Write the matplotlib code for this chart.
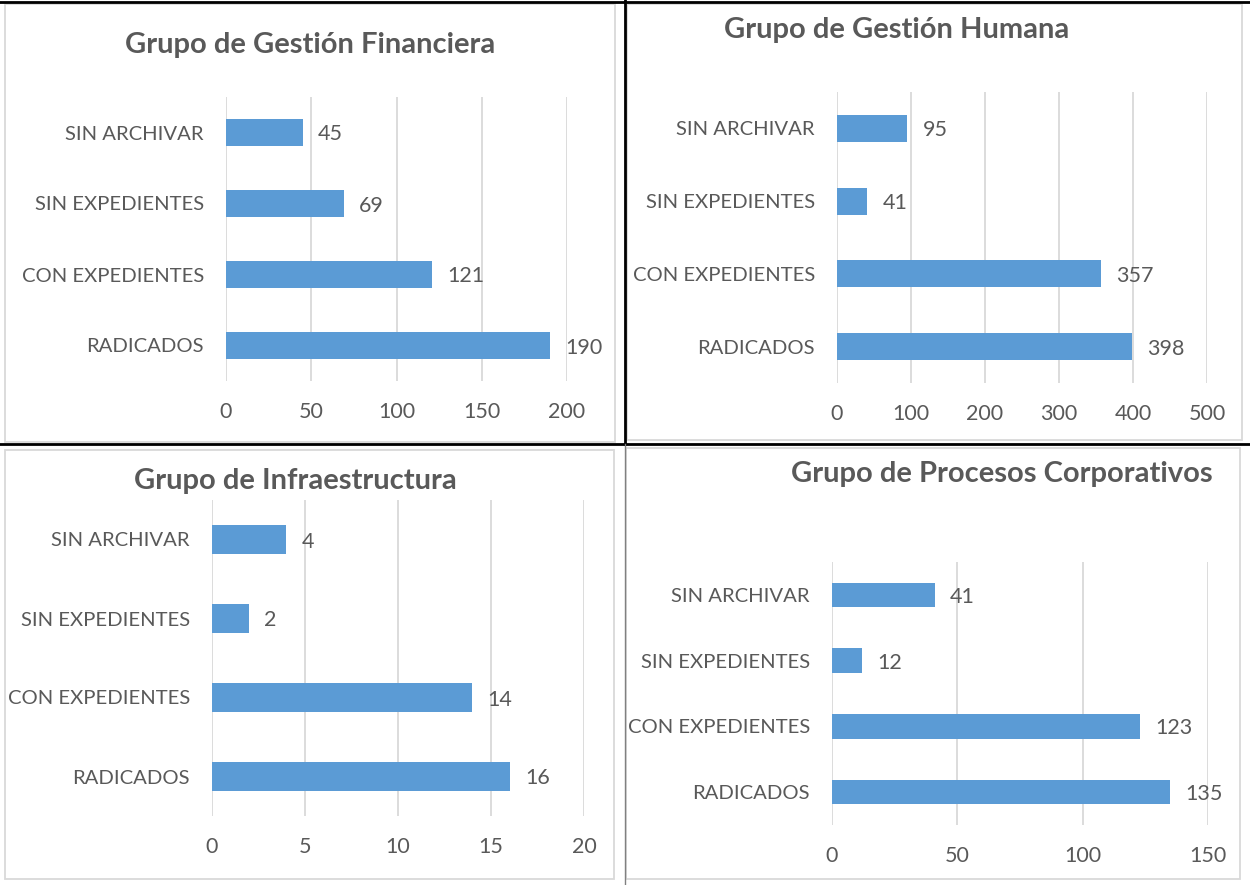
import matplotlib
matplotlib.use("Agg")
import matplotlib.pyplot as plt
from matplotlib.patches import Rectangle
from matplotlib.lines import Line2D

plt.rcParams['font.family'] = ['Lato', 'DejaVu Sans']

categorias = ['RADICADOS', 'CON EXPEDIENTES', 'SIN EXPEDIENTES', 'SIN ARCHIVAR']

titulos = ['Grupo de Gestión Financiera', 'Grupo de Gestión Humana',
           'Grupo de Infraestructura', 'Grupo de Procesos Corporativos']
financiera = [190, 121, 69, 45]
humana = [398, 357, 41, 95]
infraestructura = [16, 14, 2, 4]
corporativos = [135, 123, 12, 41]
series = [financiera, humana, infraestructura, corporativos]

limites = [200, 500, 20, 150]
pasos = [50, 100, 5, 50]

W, H = 1250, 885
AZUL = '#5B9BD5'
TEXTO = '#595959'
GRIS = '#D9D9D9'

# pixel boxes (left, top, right, bottom) for plot areas
areas = [(226, 97, 567, 381), (837, 92, 1207, 383),
         (212, 500, 584, 816), (832, 562, 1208, 825)]
marcos = [(5, 4, 615, 442), (627, 4, 1242, 440),
          (5, 450, 614, 879), (626, 448, 1240, 879)]
pos_titulo = [(310, 45), (897, 30), (295, 481), (1002, 474)]

fig = plt.figure(figsize=(W / 100, H / 100), dpi=100)

for (x0, y0, x1, y1) in marcos:
    fig.patches.append(Rectangle((x0 / W, 1 - y1 / H), (x1 - x0) / W, (y1 - y0) / H,
                                 transform=fig.transFigure, fill=False,
                                 edgecolor=GRIS, linewidth=1.3))

fig.lines.append(Line2D([0, 1], [1 - 2 / H, 1 - 2 / H], transform=fig.transFigure,
                        color='black', linewidth=2))
fig.lines.append(Line2D([0, 1], [1 - 444 / H, 1 - 444 / H], transform=fig.transFigure,
                        color='black', linewidth=2))
fig.lines.append(Line2D([625 / W, 625 / W], [1 - 444 / H, 1], transform=fig.transFigure,
                        color='black', linewidth=2))
fig.lines.append(Line2D([625 / W, 625 / W], [0, 1 - 444 / H], transform=fig.transFigure,
                        color='#808080', linewidth=1))

for i in range(4):
    x0, y0, x1, y1 = areas[i]
    ax = fig.add_axes([x0 / W, 1 - y1 / H, (x1 - x0) / W, (y1 - y0) / H])
    vals = series[i]
    ypos = list(range(len(categorias)))
    ax.barh(ypos, vals, height=0.37, color=AZUL, zorder=3)
    for y, v in zip(ypos, vals):
        ax.annotate(str(v), (v, y), xytext=(11, 0), textcoords='offset points',
                    va='center_baseline', ha='left', fontsize=15.5, color=TEXTO)
    ax.set_xlim(0, limites[i])
    ax.set_ylim(-0.5, 3.5)
    ax.set_xticks(range(0, limites[i] + 1, pasos[i]))
    ax.set_yticks(ypos)
    ax.set_yticklabels(categorias)
    ax.tick_params(length=0, labelsize=14.6, labelcolor=TEXTO)
    ax.tick_params(axis='y', pad=16)
    ax.tick_params(axis='x', pad=15, labelsize=15.5)
    ax.grid(axis='x', color=GRIS, linewidth=1.3, zorder=0)
    for s in ax.spines.values():
        s.set_visible(False)
    tx, ty = pos_titulo[i]
    fig.text(tx / W, 1 - ty / H, titulos[i], ha='center', va='center',
             fontsize=21, fontweight='bold', color=TEXTO)

fig.savefig('out.png', dpi=100)
